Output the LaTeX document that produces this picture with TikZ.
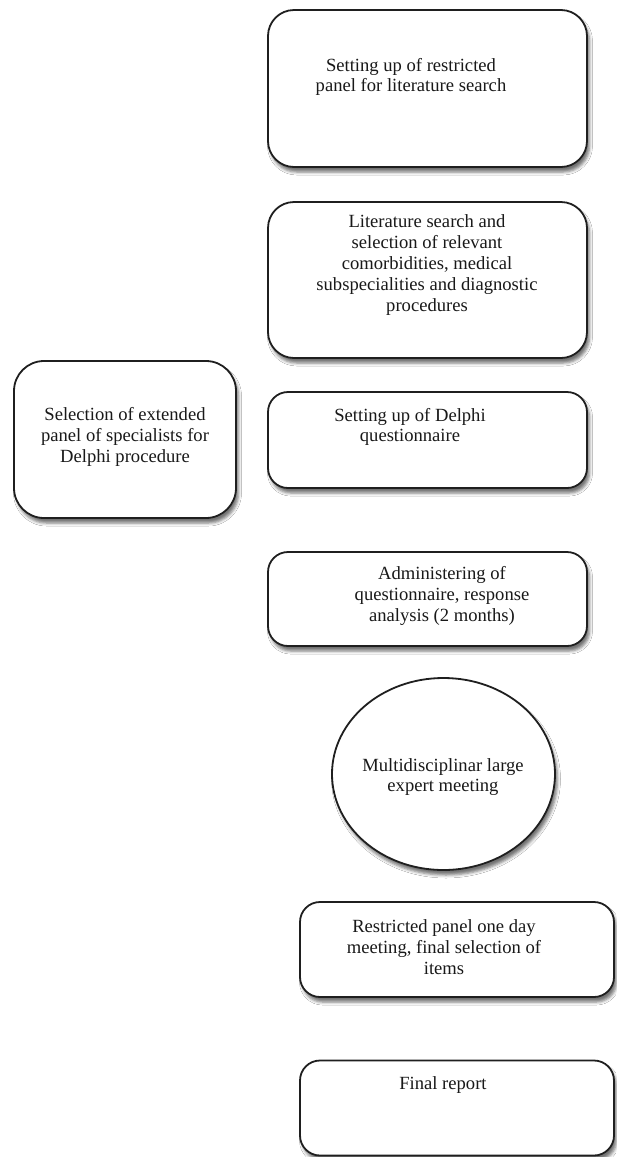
\documentclass[tikz,border=0pt]{standalone}
\usepackage{fontspec}
\setmainfont{Liberation Serif}
\usetikzlibrary{shapes.geometric,shadows.blur}

\tikzset{
  stepbox/.style={draw=black!88, line width=1.8pt, fill=white, rounded corners=#1,
    blur shadow={shadow xshift=2.5pt, shadow yshift=-5pt, shadow blur radius=3pt, shadow opacity=55}},
  stepbox/.default=22pt,
  steptext/.style={align=center, inner sep=0pt, font=\fontsize{18.6}{20.8}\selectfont, text=black!90}
}

\begin{document}
\begin{tikzpicture}[x=1pt, y=-1pt]
    % Page frame (pixels of the reference, y downwards)
    \useasboundingbox[fill=white] (0,0) rectangle (616,1157);

    % Restricted panel
    \node[stepbox=26pt, minimum width=319pt, minimum height=157pt] (panel) at (427.5,88.5) {};
    \node[steptext] (panelt) at (411,77) {Setting up of restricted\\panel for literature search};

    % Literature search
    \node[stepbox=26pt, minimum width=319pt, minimum height=156pt] (search) at (427.5,280) {};
    \node[steptext] (searcht) at (427,265) {Literature search and\\selection of relevant\\comorbidities, medical\\subspecialities and diagnostic\\procedures};

    % Extended panel on the left
    \node[stepbox=30pt, minimum width=222pt, minimum height=157pt] (extended) at (125,439.5) {};
    \node[steptext] (extendedt) at (125,437) {Selection of extended\\panel of specialists for\\Delphi procedure};

    % Delphi questionnaire
    \node[stepbox=20pt, minimum width=319pt, minimum height=96pt] (delphi) at (427.5,440) {};
    \node[steptext] (delphit) at (410,427) {Setting up of Delphi\\questionnaire};

    % Administering
    \node[stepbox=20pt, minimum width=319pt, minimum height=94pt] (admin) at (427.5,599) {};
    \node[steptext] (admint) at (442,596) {Administering of\\questionnaire, response\\analysis (2 months)};

    % Large expert meeting
    \node[draw=black!88, line width=1.8pt, fill=white, ellipse, inner sep=0pt,
      minimum width=223pt, minimum height=192pt,
      blur shadow={shadow xshift=2.5pt, shadow yshift=-5pt, shadow blur radius=3pt, shadow opacity=55}]
      (meeting) at (443.5,774) {};
    \node[steptext] (meetingt) at (443,777) {Multidisciplinar large\\expert meeting};

    % One day meeting
    \node[stepbox=20pt, minimum width=314pt, minimum height=95pt] (oneday) at (457,949.5) {};
    \node[steptext] (onedayt) at (444,947) {Restricted panel one day\\meeting, final selection of\\items};

    % Final report
    \node[stepbox=20pt, minimum width=314pt, minimum height=95pt] (report) at (457,1108) {};
    \node[steptext] (reportt) at (443,1085) {Final report};

\end{tikzpicture}
\end{document}
